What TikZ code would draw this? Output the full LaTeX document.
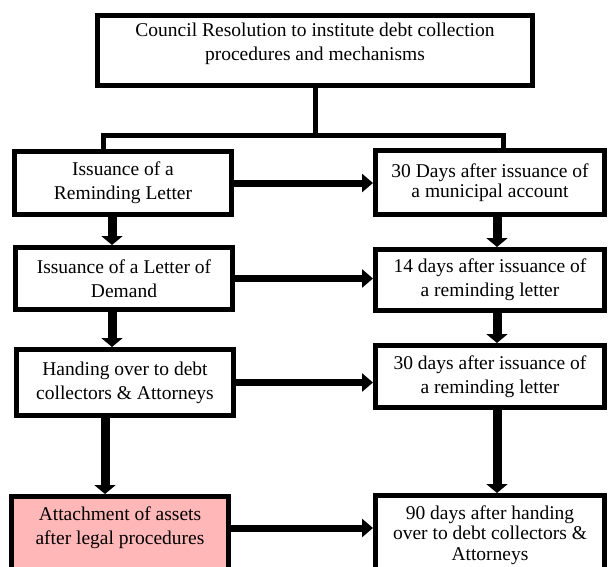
\documentclass[tikz,border=0pt]{standalone}
\usepackage{fontspec}
\setmainfont{Liberation Serif}
\usetikzlibrary{arrows.meta,positioning}
\definecolor{dcPink}{HTML}{FFB7B7}

\begin{document}
\begin{tikzpicture}[x=1pt,y=-1pt,
  stagebox/.style={draw,line width=5pt,align=center,inner sep=0pt,
    font=\fontsize{19.5}{24}\selectfont},
  leftbox/.style={stagebox,minimum width=217pt},
  rightbox/.style={stagebox,minimum width=229pt},
  boxtext/.style={align=center,font=\fontsize{19.5}{24}\selectfont},
  trunk/.style={line width=5pt,line join=miter},
  flowarrow/.style={line width=7pt,-{Triangle[length=11pt,width=18pt]}},
  downarrow/.style={line width=9pt,-{Triangle[length=9pt,width=21pt]}}]
  \useasboundingbox (0,0) rectangle (608,566);
  \clip (0,0) rectangle (608,566);
  % ---- Council resolution ----
  \node[stagebox,minimum width=435pt,minimum height=70pt] (council) at (315,50.5) {};
  \node[boxtext] (councilText) at (315,44)
    {Council Resolution to institute debt collection\\procedures and mechanisms};
  % ---- Procedures (left) ----
  \node[leftbox,minimum height=63pt] (issueReminder) at (123,183) {Issuance of a\\Reminding Letter};
  \node[leftbox,minimum height=62pt] (issueDemand) at (124,278.5) {Issuance of a Letter of\\Demand};
  \node[leftbox,minimum height=66pt] (handOver) at (125,382.5) {Handing over to debt\\collectors \& Attorneys};
  \node[leftbox,minimum height=87pt,fill=dcPink] (attach) at (120,540) {};
  \node[boxtext] (attachText) at (120,528) {Attachment of assets\\after legal procedures};
  % ---- Time frames (right) ----
  \node[rightbox,minimum height=64pt,font=\fontsize{19.5}{20}\selectfont] (dueAccount) at (490,182.5)
    {30 Days after issuance of\\a municipal account};
  \node[rightbox,minimum height=61pt] (dueReminder) at (490,280) {14 days after issuance of\\a reminding letter};
  \node[rightbox,minimum height=62pt] (dueCollect) at (490,376.5) {30 days after issuance of\\a reminding letter};
  \node[rightbox,minimum height=79pt,font=\fontsize{19.5}{20.5}\selectfont] (dueAttach) at (490,535)
    {90 days after handing\\over to debt collectors \&\\Attorneys};
  % ---- Fork ----
  \coordinate (forkL) at (103,135);
  \coordinate (forkR) at (503,135);
  \draw[trunk] (council.south) -- (council.south |- forkL);
  \draw[trunk] (issueReminder.north -| forkL) -- (forkL) -- (forkR) -- (dueAccount.north -| forkR);
  % ---- Arrows ----
  \foreach \a/\b in {issueReminder/dueAccount,issueDemand/dueReminder,handOver/dueCollect}{
    \draw[flowarrow] (\a.east) -- (\a.east -| \b.west);
  }
  \draw[flowarrow] (attach.east |- attachText) -- (dueAttach.west |- attachText);
  \coordinate (downL) at (112,0);
  \coordinate (downLL) at (105,0);
  \coordinate (downR) at (497,0);
  \draw[downarrow] (issueReminder.south -| downL) -- (issueDemand.north -| downL);
  \draw[downarrow] (issueDemand.south -| downL) -- (handOver.north -| downL);
  \draw[downarrow] (handOver.south -| downLL) -- (attach.north -| downLL);
  \foreach \a/\b in {dueAccount/dueReminder,dueReminder/dueCollect,dueCollect/dueAttach}{
    \draw[downarrow] (\a.south -| downR) -- (\b.north -| downR);
  }
\end{tikzpicture}
\end{document}
